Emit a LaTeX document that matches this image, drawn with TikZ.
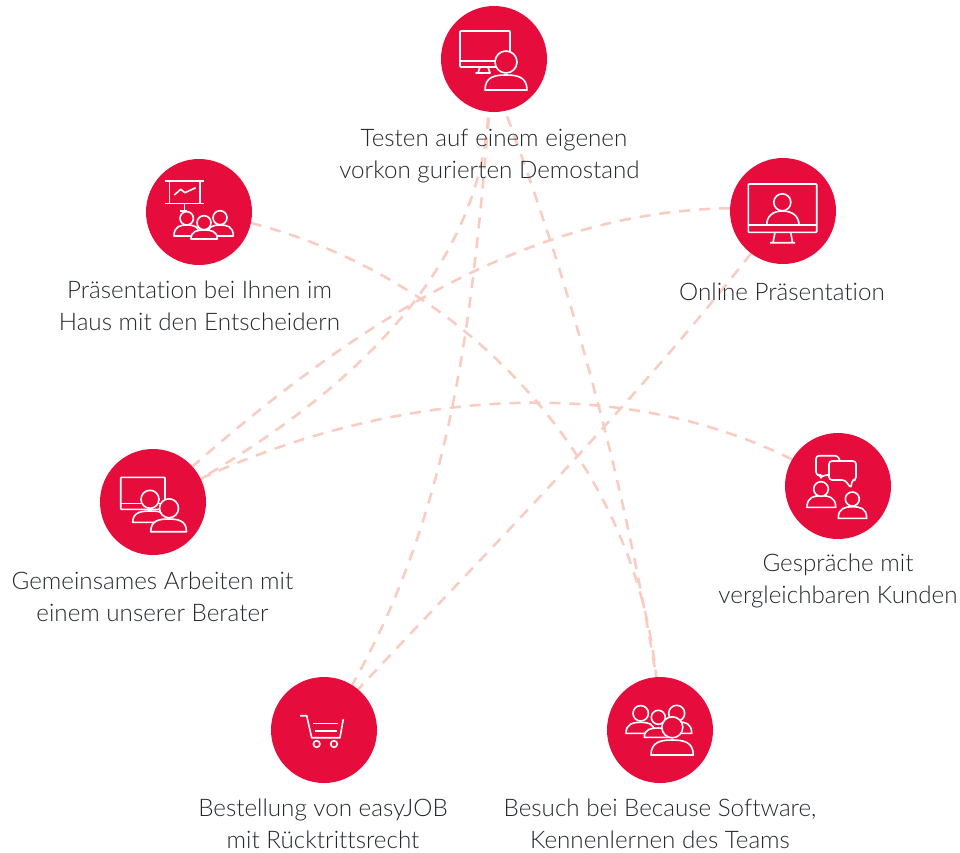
\documentclass[tikz,border=0pt]{standalone}
\usepackage{fontspec}
\setmainfont[Ligatures=NoCommon]{Lato Light}
\usetikzlibrary{backgrounds}
\definecolor{crim}{HTML}{E60D3C}
\definecolor{linkc}{HTML}{FACBC0}
\definecolor{txt}{HTML}{25292E}
\tikzset{
  dot/.style={circle,fill=crim,minimum size=106pt,inner sep=0pt,outer sep=0pt},
  lab/.style={align=center,text=txt,font=\fontsize{24.2}{32}\selectfont,inner sep=0pt},
  link/.style={draw=linkc,line width=2.5pt,dash pattern=on 11pt off 9pt},
  ico/.style={draw=white,line width=1.6pt,line join=round,fill=crim},
  icol/.style={draw=white,line width=1.6pt,line join=round},
}
\newcommand{\dude}[7]{% cx headcy r x0 x1 top bottom
  \draw[ico] (#4,#7) .. controls (#4,{#6+0.1*(#7-#6)}) and ({#4+0.25*(#5-#4)},#6) .. ({(#4+#5)/2},#6)
     .. controls ({#5-0.25*(#5-#4)},#6) and (#5,{#6+0.1*(#7-#6)}) .. (#5,#7) -- cycle;
  \draw[ico] (#1,#2) circle[radius=#3];
}
\begin{document}
\begin{tikzpicture}[x=1pt,y=-1pt]
\useasboundingbox (0,0) rectangle (960,852);
\node[dot] (top) at (494,59) {};
\node[dot] (pres) at (199,212) {};
\node[dot] (online) at (783,211) {};
\node[dot] (gem) at (153,502) {};
\node[dot] (gespr) at (838,486) {};
\node[dot] (best) at (324,730) {};
\node[dot] (bes) at (660,730) {};
\node[lab] (ltop) at (494,156) {Testen auf einem eigenen\\vorkon gurierten Demostand\hspace*{9pt}};
\node[lab] (lpres) at (199.5,306) {Präsentation bei Ihnen im\\Haus mit den Entscheidern};
\node[lab] (lonline) at (782,292) {Online Präsentation};
\node[lab] (lgem) at (152.5,597) {Gemeinsames Arbeiten mit\\einem unserer Berater};
\node[lab] (lgespr) at (838,580.5) {Gespräche mit\\vergleichbaren Kunden};
\node[lab] (lbest) at (323,824) {Bestellung von easyJOB\\mit Rücktrittsrecht};
\node[lab] (lbes) at (660,824) {Besuch bei Because Software,\\Kennenlernen des Teams};
\begin{scope}[on background layer]
\fill[white] (0,0) rectangle (960,852);
\draw[link,shorten <=6pt] (top.-96) .. controls (476,283) and (335.5,399) .. (gem.26);
\draw[link,shorten <=6pt] (top.-95) .. controls (473,300) and (456,502) .. (best.58);
\draw[link,shorten <=6pt] (top.-78) .. controls (576,302) and (625,487) .. (bes.94);
\draw[link] (pres.-12) .. controls (459.5,276) and (634,455) .. (bes.94);
\draw[link] (online.177) .. controls (546,211) and (377,304) .. (gem.42);
\draw[link] (online.-127) .. controls (625,414) and (489,549) .. (best.50);
\draw[link] (gem.26) .. controls (382,395) and (611,369) .. (gespr.150);
\end{scope}
% top icon
\draw[icol,rounded corners=0.8pt] (460,31) rectangle (510,67);
\draw[icol] (460,61) -- (495,61);
\draw[icol] (480,67) -- (478,73) -- (476,73) -- (490,73) -- (488,67);
\dude{506}{62}{11}{485}{527}{75}{90}
% presentation icon
\draw[icol] (169.3,181) -- (169.3,203.3) (200,181) -- (200,203.3);
\draw[icol] (165,181) -- (204,181) (165,203.3) -- (204,203.3);
\draw[icol] (184.3,203.3) -- (184.3,211) (179.5,211) -- (187,211);
\draw[icol] (174.3,195) -- (180.7,189.3) -- (185,192.7) -- (195.7,187.7);
\dude{186.7}{218.3}{6.7}{174}{200}{225}{236}
\dude{220}{217.7}{7}{207}{233.3}{225}{236}
\dude{204}{222.7}{7}{191}{217.3}{230}{239}
% online icon
\draw[icol,rounded corners=0.8pt] (748.3,184) rectangle (816.7,232.3);
\draw[icol] (748.3,225) -- (816.7,225);
\draw[icol] (775,232.3) -- (773,242.7) (790.7,232.3) -- (792.5,242.7) (770,242.7) -- (795,242.7);
\draw[icol] (766.7,225) .. controls (766.7,216) and (773,211) .. (782.5,211) .. controls (792,211) and (799,216) .. (799,225);
\draw[ico] (782.3,202.3) circle[radius=8.5];
% gem icon
\draw[icol,rounded corners=0.8pt] (120.7,477.3) rectangle (165,509.3);
\draw[icol] (120.7,503.3) -- (165,503.3);
\dude{150}{499.3}{9}{132.7}{168}{511}{522.3}
\dude{169}{508.3}{9.5}{150.7}{186.5}{519}{531.7}
% gespr icon
\draw[icol,rounded corners=3pt] (829.5,475) -- (824.5,475) -- (821,477.5) -- (820.5,475) -- (816,475) -- (816,455.7) -- (838,455.7) -- (840,461);
\draw[ico,rounded corners=3pt] (829,461) -- (856,461) -- (856,480) -- (852,480) -- (851,488.3) -- (845,480) -- (829,480) -- cycle;
\dude{821}{489}{7.3}{807}{835.7}{495.7}{507.3}
\dude{852.3}{499}{7}{838.3}{866.7}{506.7}{518.3}
% cart icon
\draw[icol] (300,715.7) -- (306.7,715.7) -- (311.7,737.7) -- (340,737.7) -- (343.3,719);
\draw[icol] (313.3,723.3) -- (338.3,723.3) (315,730.7) -- (337.3,730.7);
\draw[icol] (316.7,744) circle[radius=3.3] (334,744) circle[radius=3.3];
% besuch icon
\dude{640.7}{713.3}{7.7}{626}{655}{722.3}{733.3}
\dude{676.7}{713.3}{8}{665}{691.7}{722}{733.3}
\dude{658.3}{717.3}{7}{644.3}{672.3}{728}{737.3}
\dude{672.3}{727.3}{10.5}{651}{693.3}{740}{755}
\end{tikzpicture}
\end{document}
